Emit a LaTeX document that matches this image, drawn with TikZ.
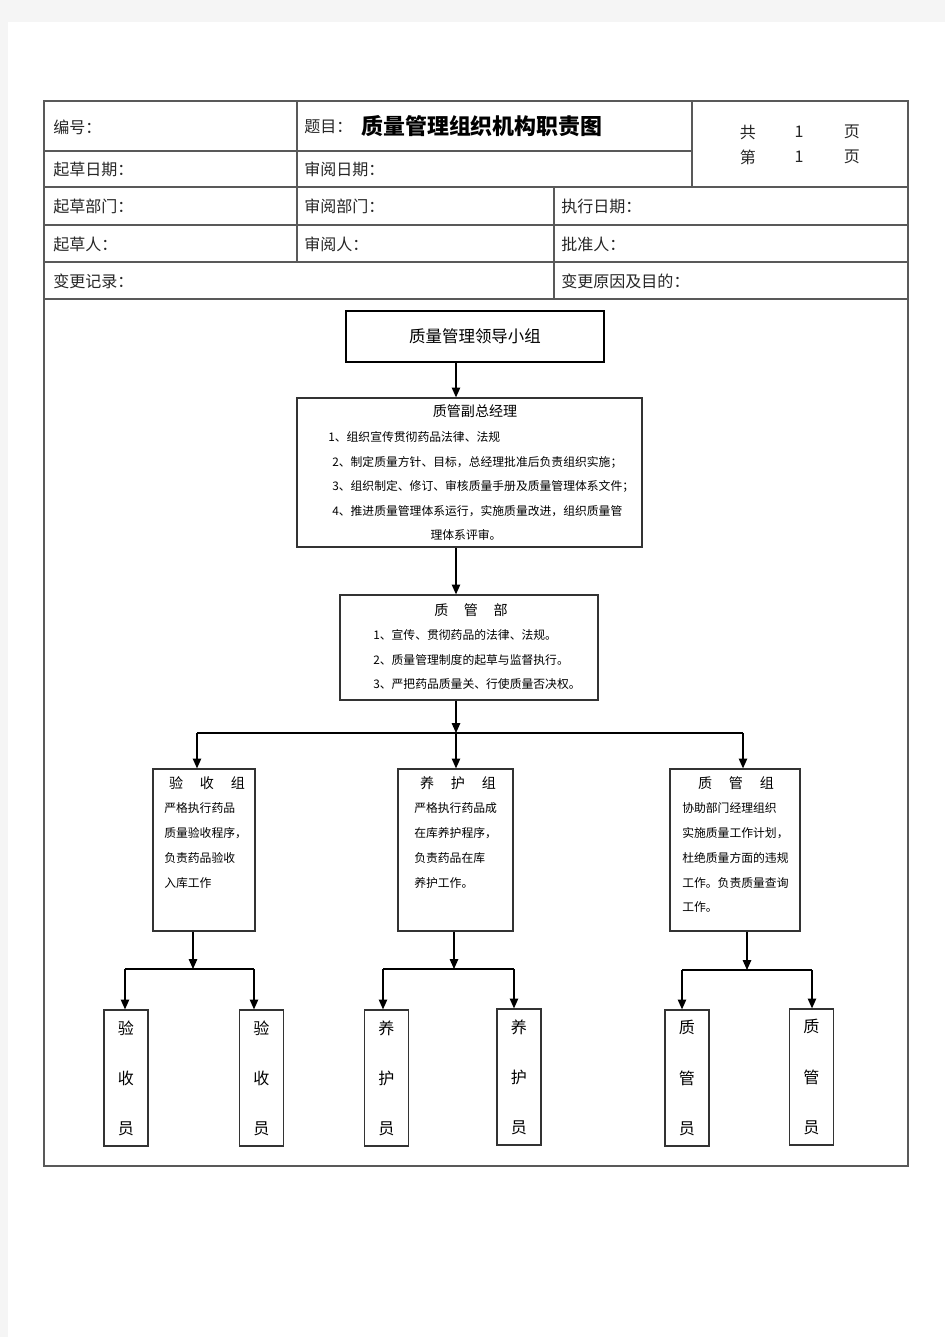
\documentclass[tikz,border=0pt]{standalone}
\usepackage{fontspec}
\setmainfont{Noto Sans CJK SC}
\usetikzlibrary{arrows.meta}
\def\u{0.025cm}

\begin{document}
\begin{tikzpicture}[x=\u, y=-\u,
    tbl/.style={draw=black!65, line width=1pt},
    hd/.style={anchor=west, inner sep=0pt, text=black!85, font=\fontsize{11.4pt}{13pt}\selectfont},
    bx/.style={draw=black!80, line width=0.9pt, inner sep=0pt},
    tx/.style={anchor=west, inner sep=0pt, font=\fontsize{8.4pt}{10pt}\selectfont},
    ti/.style={inner sep=0pt, font=\fontsize{10pt}{12pt}\selectfont},
    leaf/.style={bx, minimum width=44*\u, minimum height=136*\u, align=center,
        font=\fontsize{11.4pt}{35.6pt}\selectfont},
    arr/.style={-{Triangle[length=7pt, width=6pt]}, line width=0.9pt}]

    \useasboundingbox (0,0) rectangle (945,1337);
    \fill[black!4] (0,0) rectangle (945,1337);
    \fill[white] (8,22) rectangle (945,1337);

    % form header
    \draw[tbl] (44,101) rectangle (908,1166);
    \draw[tbl] (44,151) -- (692,151);
    \draw[tbl] (44,187) -- (908,187);
    \draw[tbl] (44,225) -- (908,225);
    \draw[tbl] (44,262) -- (908,262);
    \draw[tbl] (44,299) -- (908,299);
    \draw[tbl] (297,101) -- (297,262);
    \draw[tbl] (692,101) -- (692,187);
    \draw[tbl] (554,187) -- (554,299);

    \node[hd] (num) at (53,127) {编号：};
    \node[hd] (subj) at (304,127) {题目：};
    \node[hd, text=black, font=\fontsize{15.6pt}{18pt}\selectfont\bfseries] (title) at (361,126) {质量管理组织机构职责图};
    \node[hd, anchor=center] (tot) at (748,132) {共};
    \node[hd, anchor=center] (tot1) at (799,132) {1};
    \node[hd, anchor=center] (totp) at (852,132) {页};
    \node[hd, anchor=center] (cur) at (748,157) {第};
    \node[hd, anchor=center] (cur1) at (799,157) {1};
    \node[hd, anchor=center] (curp) at (852,157) {页};
    \node[hd] (ddate) at (53,169) {起草日期：};
    \node[hd] (rdate) at (304,169) {审阅日期：};
    \node[hd] (ddept) at (53,206) {起草部门：};
    \node[hd] (rdept) at (304,206) {审阅部门：};
    \node[hd] (edate) at (561,206) {执行日期：};
    \node[hd] (dman) at (53,244) {起草人：};
    \node[hd] (rman) at (304,244) {审阅人：};
    \node[hd] (aman) at (561,244) {批准人：};
    \node[hd] (chg) at (53,281) {变更记录：};
    \node[hd] (why) at (561,281) {变更原因及目的：};

    % chart boxes
    \node[bx, line width=1.4pt, draw=black, minimum width=258*\u, minimum height=51*\u,
        font=\fontsize{11.7pt}{14pt}\selectfont] (lead) at (475,336.5) {质量管理领导小组};
    \node[bx, minimum width=345*\u, minimum height=149*\u] (vp) at (469.5,472.5) {};
    \node[bx, minimum width=258*\u, minimum height=105*\u] (dept) at (469,647.5) {};
    \node[bx, minimum width=102*\u, minimum height=162*\u] (grpA) at (204,850) {};
    \node[bx, minimum width=115*\u, minimum height=162*\u] (grpB) at (455.5,850) {};
    \node[bx, minimum width=130*\u, minimum height=162*\u] (grpC) at (735,850) {};

    \node[leaf] (la1) at (126,1078) {验\\收\\员};
    \node[leaf] (la2) at (261.5,1078) {验\\收\\员};
    \node[leaf] (lb1) at (386.5,1078) {养\\护\\员};
    \node[leaf] (lb2) at (519,1077) {养\\护\\员};
    \node[leaf] (lc1) at (687,1078) {质\\管\\员};
    \node[leaf] (lc2) at (811.5,1077) {质\\管\\员};

    % box texts
    \node[ti] (vpt) at (475,411) {质管副总经理};
    \node[tx] (vp1) at (328,437) {1、组织宣传贯彻药品法律、法规};
    \node[tx] (vp2) at (332,462) {2、制定质量方针、目标，总经理批准后负责组织实施；};
    \node[tx] (vp3) at (332,486) {3、组织制定、修订、审核质量手册及质量管理体系文件；};
    \node[tx] (vp4) at (332,511) {4、推进质量管理体系运行，实施质量改进，组织质量管};
    \node[tx, anchor=center] (vp5) at (466,535) {理体系评审。};

    \node[ti] (dpt) at (471,610) {质\hspace{1.1em}管\hspace{1.1em}部};
    \node[tx] (dp1) at (373,635) {1、宣传、贯彻药品的法律、法规。};
    \node[tx] (dp2) at (373,660) {2、质量管理制度的起草与监督执行。};
    \node[tx] (dp3) at (373,684) {3、严把药品质量关、行使质量否决权。};

    \node[ti] (gat) at (207,783) {验\hspace{1.2em}收\hspace{1.2em}组};
    \node[tx] (ga1) at (164,808) {严格执行药品};
    \node[tx] (ga2) at (164,833) {质量验收程序，};
    \node[tx] (ga3) at (164,858) {负责药品验收};
    \node[tx] (ga4) at (164,883) {入库工作};

    \node[ti] (gbt) at (458,783) {养\hspace{1.2em}护\hspace{1.2em}组};
    \node[tx] (gb1) at (414,808) {严格执行药品成};
    \node[tx] (gb2) at (414,833) {在库养护程序，};
    \node[tx] (gb3) at (414,858) {负责药品在库};
    \node[tx] (gb4) at (414,883) {养护工作。};

    \node[ti] (gct) at (736,783) {质\hspace{1.2em}管\hspace{1.2em}组};
    \node[tx] (gc1) at (682,808) {协助部门经理组织};
    \node[tx] (gc2) at (682,833) {实施质量工作计划，};
    \node[tx] (gc3) at (682,858) {杜绝质量方面的违规};
    \node[tx] (gc4) at (682,883) {工作。负责质量查询};
    \node[tx] (gc5) at (682,907) {工作。};

    % connectors
    \coordinate (ax) at (456,0);
    \coordinate (j0) at (456,733);
    \coordinate (ja) at (197,733);
    \coordinate (jc) at (743,733);
    \draw[arr] (lead.south -| ax) -- (vp.north -| ax);
    \draw[arr] (vp.south -| ax) -- (dept.north -| ax);
    \draw[arr] (dept.south -| j0) -- (j0);
    \draw[line width=0.9pt] (ja) -- (jc);
    \draw[arr] (ja) -- (ja |- grpA.north);
    \draw[arr] (j0) -- (j0 |- grpB.north);
    \draw[arr] (jc) -- (jc |- grpC.north);

    \coordinate (ka) at (193,969);
    \coordinate (ka1) at (125,969);
    \coordinate (ka2) at (254,969);
    \draw[arr] (ka |- grpA.south) -- (ka);
    \draw[line width=0.9pt] (ka1) -- (ka2);
    \draw[arr] (ka1) -- (ka1 |- la1.north);
    \draw[arr] (ka2) -- (ka2 |- la2.north);

    \coordinate (kb) at (454,969);
    \coordinate (kb1) at (383,969);
    \coordinate (kb2) at (514,969);
    \draw[arr] (kb |- grpB.south) -- (kb);
    \draw[line width=0.9pt] (kb1) -- (kb2);
    \draw[arr] (kb1) -- (kb1 |- lb1.north);
    \draw[arr] (kb2) -- (kb2 |- lb2.north);

    \coordinate (kc) at (747,970);
    \coordinate (kc1) at (682,970);
    \coordinate (kc2) at (812,970);
    \draw[arr] (kc |- grpC.south) -- (kc);
    \draw[line width=0.9pt] (kc1) -- (kc2);
    \draw[arr] (kc1) -- (kc1 |- lc1.north);
    \draw[arr] (kc2) -- (kc2 |- lc2.north);
\end{tikzpicture}
\end{document}
